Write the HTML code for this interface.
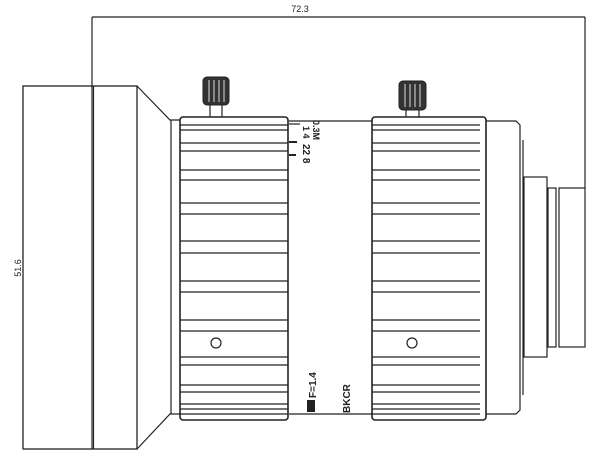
<!DOCTYPE html>
<html><head><style>
html,body{margin:0;padding:0;background:#fff;}
svg{display:block}
text{font-family:"Liberation Sans",sans-serif;fill:#222}
</style></head><body>
<svg width="600" height="457" viewBox="0 0 600 457" xmlns="http://www.w3.org/2000/svg">
<g stroke="#222" stroke-width="1.2" fill="none">
<line x1="92" y1="17" x2="585" y2="17"/>
<line x1="92" y1="17" x2="92" y2="449"/>
<line x1="585" y1="17" x2="585" y2="188"/>
<rect x="23" y="86" width="114" height="363" stroke-width="1.3"/>
<line x1="93.5" y1="86" x2="93.5" y2="449"/>
<polyline points="137,86 170,120 180,120"/>
<polyline points="137,449 170,414 180,414"/>
<line x1="171" y1="120" x2="171" y2="414"/>
<line x1="289" y1="121" x2="372" y2="121"/>
<line x1="289" y1="414" x2="372" y2="414"/>
<rect x="180" y="117" width="108" height="303" rx="3" stroke-width="1.6"/>
<g id="bands">
<line x1="180" y1="125" x2="288" y2="125"/><line x1="180" y1="130" x2="288" y2="130"/>
<line x1="180" y1="143" x2="288" y2="143"/><line x1="180" y1="151" x2="288" y2="151"/>
<line x1="180" y1="170" x2="288" y2="170"/><line x1="180" y1="180" x2="288" y2="180"/>
<line x1="180" y1="203" x2="288" y2="203"/><line x1="180" y1="214" x2="288" y2="214"/>
<line x1="180" y1="241" x2="288" y2="241"/><line x1="180" y1="253" x2="288" y2="253"/>
<line x1="180" y1="281" x2="288" y2="281"/><line x1="180" y1="292" x2="288" y2="292"/>
<line x1="180" y1="320" x2="288" y2="320"/><line x1="180" y1="331" x2="288" y2="331"/>
<line x1="180" y1="357" x2="288" y2="357"/><line x1="180" y1="365" x2="288" y2="365"/>
<line x1="180" y1="385" x2="288" y2="385"/><line x1="180" y1="392" x2="288" y2="392"/>
<line x1="180" y1="404" x2="288" y2="404"/><line x1="180" y1="409" x2="288" y2="409"/>
<line x1="180" y1="414" x2="288" y2="414"/>
</g>
<use href="#bands" x="192"/>
<rect x="372" y="117" width="114" height="303" rx="3" stroke-width="1.6"/>
<polyline points="486,121 516,121 520,125 520,410 516,414 486,414"/>
<line x1="523" y1="140" x2="523" y2="395"/>
<rect x="524" y="177" width="23" height="180"/>
<rect x="548" y="188" width="8" height="159"/>
<rect x="559" y="188" width="26" height="159"/>
<circle cx="216" cy="343" r="5"/>
<circle cx="412" cy="343" r="5"/>
<line x1="210" y1="105" x2="210" y2="117"/><line x1="222" y1="105" x2="222" y2="117"/>
<line x1="406" y1="110" x2="406" y2="117"/><line x1="419" y1="110" x2="419" y2="117"/>
<line x1="289" y1="124" x2="300" y2="124"/>
<line x1="289" y1="142" x2="297" y2="142" stroke-width="2"/>
<line x1="289" y1="155" x2="296" y2="155" stroke-width="2"/>
</g>
<g fill="#333" stroke="#222">
<rect x="203" y="77" width="26" height="28" rx="4"/>
<rect x="399" y="81" width="27" height="29" rx="4"/>
</g>
<g stroke="#ddd" stroke-width="1">
<line x1="209" y1="80" x2="209" y2="102"/><line x1="214" y1="80" x2="214" y2="102"/><line x1="219" y1="80" x2="219" y2="102"/><line x1="224" y1="80" x2="224" y2="102"/>
<line x1="405" y1="84" x2="405" y2="107"/><line x1="410" y1="84" x2="410" y2="107"/><line x1="415" y1="84" x2="415" y2="107"/><line x1="420" y1="84" x2="420" y2="107"/>
</g>
<text x="300" y="12" font-size="9" text-anchor="middle">72.3</text>
<text transform="translate(21,268) rotate(-90)" font-size="9" text-anchor="middle">51.6</text>
<text transform="translate(303,126) rotate(90)" font-size="9" font-weight="bold">1 4</text>
<text transform="translate(303,144) rotate(90)" font-size="10" font-weight="bold">22 8</text>
<text transform="translate(313,120) rotate(90)" font-size="9" font-weight="bold">0.3M</text>
<rect x="307" y="400" width="8" height="12" fill="#222"/>
<text transform="translate(316,398) rotate(-90)" font-size="10" font-weight="bold">F=1.4</text>
<text transform="translate(350,413) rotate(-90)" font-size="10" font-weight="bold">BKCR</text>
</svg>
</body></html>
